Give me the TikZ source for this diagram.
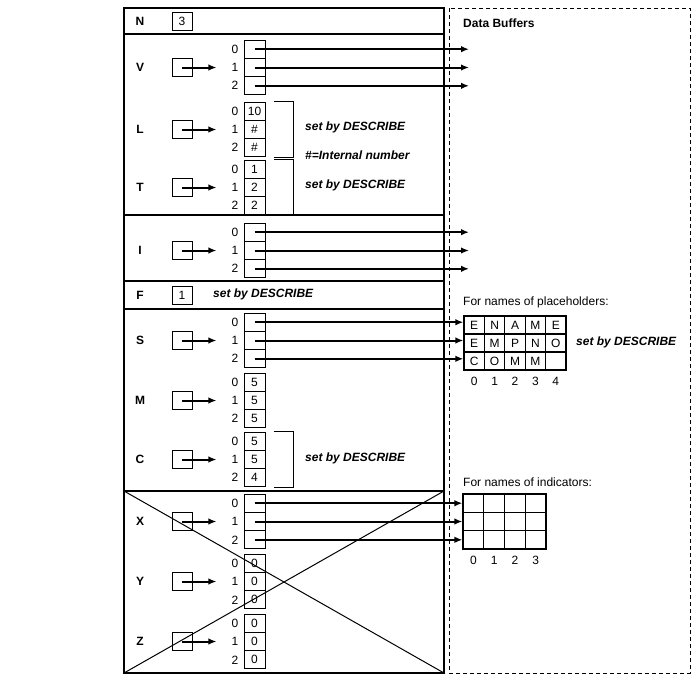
\documentclass[tikz,border=0pt]{standalone}
\usepackage{fontspec}
\setmainfont{Liberation Sans}
\usetikzlibrary{positioning}
\usetikzlibrary{arrows.meta}
\tikzset{>=latex}
\tikzstyle{frame}=[line width=1.2]
\tikzstyle{cell}=[draw,line width=1,minimum width=21,minimum height=18.3,inner sep=0]
\tikzstyle{ptr}=[draw,line width=1,minimum width=20,minimum height=18,inner sep=0]
\tikzstyle{idx}=[inner sep=0]
\tikzstyle{field}=[font=\fontsize{12}{14}\selectfont\bfseries]
\tikzstyle{note}=[font=\fontsize{12}{14}\selectfont\bfseries\itshape,anchor=west,inner sep=0]
\tikzstyle{caption}=[anchor=west,inner sep=0]
\tikzstyle{name cell}=[draw,line width=1.2,minimum width=20.4,minimum height=18,inner sep=0]
\tikzstyle{ind cell}=[draw,line width=1.2,minimum width=20.75,minimum height=18.3,inner sep=0]
\tikzstyle{connect arrow}=[-{Latex[length=8,width=6.5]},line width=2]

\begin{document}
\fontsize{12}{14}\selectfont
\begin{tikzpicture}[x=1pt,y=-1pt]
\useasboundingbox (0,0) rectangle (693,686);

% descriptor
\draw[frame] (124,8) rectangle (444,673);
\foreach \y in {34,215,281,309,491}
  \draw[frame] (124,\y) -- (444,\y);

% data buffers
\draw[dash pattern=on 4pt off 3pt,line width=1] (449,8) rectangle (690,673);
\node[field,anchor=west,inner sep=0] (buf) at (463,23) {Data Buffers};
\coordinate (bufedge) at (469,0);

% N and F
\node[field] (lN) at (140,21) {N};
\node[ptr] (pN) at (182,21) {3};
\node[field] (lF) at (140,295) {F};
\node[ptr] (pF) at (182,295) {1};
\node[note] (nF) at (213,294) {set by DESCRIBE};

% arrays
\foreach \arr/\ytop/\va/\vb/\vc in {V/40/{}/{}/{}, L/102/10/\#/\#, T/160/1/2/2,
    I/223/{}/{}/{}, S/313/{}/{}/{}, M/373/5/5/5, C/432/5/5/4,
    X/494/{}/{}/{}, Y/554/0/0/0, Z/614/0/0/0}{
  \node[field] (l\arr) at (140,\ytop+27.5) {\arr};
  \node[ptr] (p\arr) at (182,\ytop+27.5) {};
  \node[cell] (\arr0) at (254.5,\ytop+9.2) {\va};
  \node[cell] (\arr1) at (254.5,\ytop+27.5) {\vb};
  \node[cell] (\arr2) at (254.5,\ytop+45.8) {\vc};
  \foreach \k in {0,1,2}
    \node[idx] (i\arr\k) at (235,\ytop+9.2+18.3*\k) {\k};
  \draw[connect arrow,shorten >=15] (p\arr.center) -- (i\arr1.west);
}

% brackets
\foreach \arr in {L,T,C}
  \draw[line width=1] ([xshift=8]\arr0.north east) -- ++(20,0) |- ([xshift=8]\arr2.south east);
\node[note] (nL) at (305,127) {set by DESCRIBE};
\node[note] (nH) at (305,155) {\#=Internal number};
\node[note] (nT) at (305,185) {set by DESCRIBE};
\node[note] (nC) at (305,458) {set by DESCRIBE};

% X, Y, Z crossed out
\draw[line width=1] (124,491) -- (444,673);
\draw[line width=1] (444,491) -- (124,673);

% placeholder names
\node[caption] (phcap) at (463,302) {For names of placeholders:};
\foreach \t [count=\k from 0] in {E,N,A,M,E,E,M,P,N,O,C,O,M,M,{}} {
  \pgfmathtruncatemacro\row{\k/5}
  \pgfmathtruncatemacro\col{mod(\k,5)}
  \node[name cell] (ph\row\col) at (474.2+20.4*\col,325+18*\row) {\t};
}
\foreach \col in {0,...,4}
  \node[idx] (phn\col) at (474.2+20.4*\col,381) {\col};
\node[note] (nS) at (576,342) {set by DESCRIBE};

% indicator names
\node[caption] (indcap) at (463,482) {For names of indicators:};
\foreach \row in {0,1,2}
  \foreach \col in {0,...,3}
    \node[ind cell] (ind\row\col) at (473.4+20.75*\col,503.2+18.3*\row) {};
\foreach \col in {0,...,3}
  \node[idx] (indn\col) at (473.4+20.75*\col,560) {\col};

\begin{scope}[connect arrow]
  \foreach \k in {0,1,2} {
    \draw (V\k.center) -- (V\k.center -| bufedge);
    \draw (I\k.center) -- (I\k.center -| bufedge);
    \draw (S\k.center) -- (S\k.center -| ph\k0.west);
    \draw (X\k.center) -- (X\k.center -| ind\k0.west);
  }
\end{scope}

\end{tikzpicture}
\end{document}
